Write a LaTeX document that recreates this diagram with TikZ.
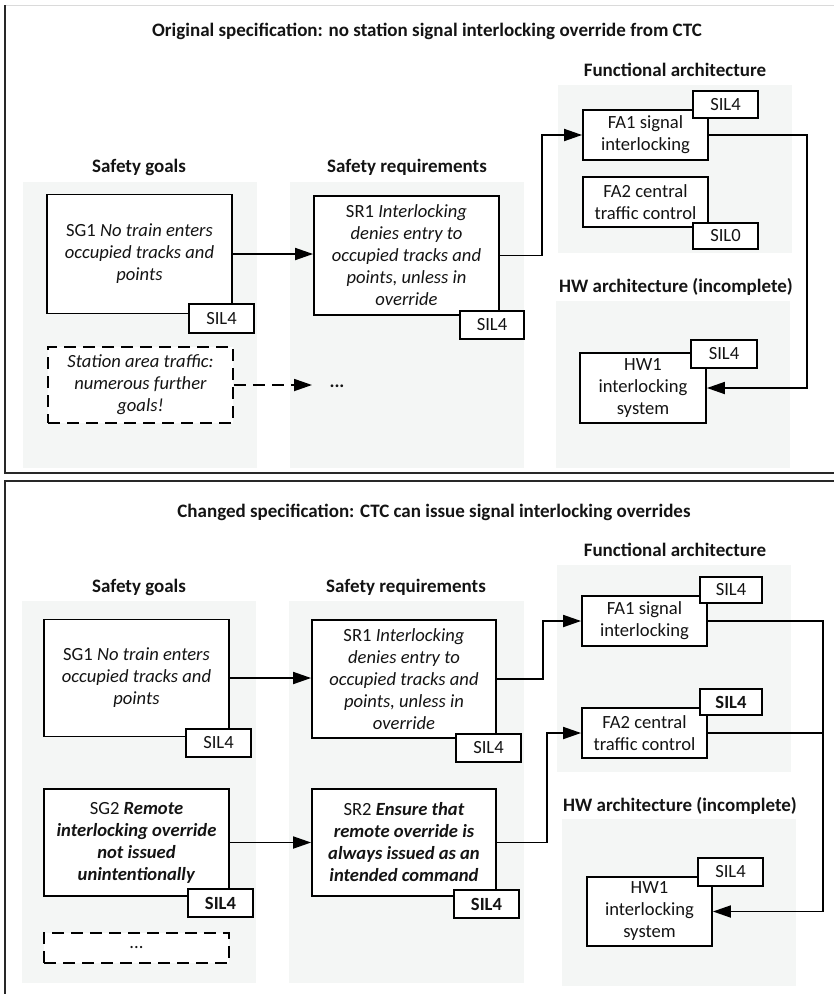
\documentclass[tikz,border=0pt]{standalone}
\usepackage{fontspec}
\setmainfont{Carlito}
\usetikzlibrary{arrows.meta}
\definecolor{panelbg}{RGB}{244,246,245}
\definecolor{topline}{RGB}{218,218,218}
\definecolor{frameline}{RGB}{40,40,40}
\begin{document}
\begin{tikzpicture}[x=1pt,y=-1pt,
  txt/.style={font=\fontsize{18.6}{22}\selectfont, align=center, text=black!92},
  head/.style={font=\fontsize{19}{22}\selectfont\bfseries, text=black!92},
  bx/.style 2 args={txt, draw, line width=1.8pt, fill=white, inner sep=1pt, minimum width=#1pt, minimum height=#2pt},
  dbx/.style 2 args={bx={#1}{#2}, dash pattern=on 12pt off 7pt},
  arr/.style={line width=1.8pt, -{Triangle[length=18pt,width=12pt]}},
  darr/.style={arr, dash pattern=on 12pt off 7pt},
  wire/.style={line width=1.8pt},
  bg/.style={fill=panelbg, draw=none},
  bfont/.style={font=\fontsize{18.6}{22}\selectfont\bfseries}
]
\useasboundingbox (0,0) rectangle (834,994);

% ---------- panel frames ----------
\draw[topline, line width=1pt] (5,5) -- (834,5);
\draw[frameline, line width=2pt] (5,5) -- (5,473) -- (834,473);
\draw[frameline, line width=2pt] (834,481) -- (5,481) -- (5,994);

% ================= TOP PANEL =================
\node[head] (t1) at (427,31) {Original specification: no station signal interlocking override from CTC};

\fill[bg] (23,182) rectangle (257,468);
\fill[bg] (290,182) rectangle (524,468);
\fill[bg] (558,85) rectangle (792,253);
\fill[bg] (556,301) rectangle (790,468);

\node[head] (hsg1) at (139,167) {Safety goals};
\node[head] (hsr1) at (407,167) {Safety requirements};
\node[head] (hfa1) at (675,70) {Functional architecture};
\node[head] (hhw1) at (676,287) {HW architecture (incomplete)};

\node[bx={185}{119}] (sg1) at (139.5,254) {SG1 \textit{No train enters}\\\textit{occupied tracks and}\\\textit{points}};
\node[bx={65}{29}] (sg1tag) at (221.5,318.5) {SIL4};

\node[dbx={185}{76}] (more1) at (140.5,385) {\textit{Station area traffic:}\\\textit{numerous further}\\\textit{goals!}};

\node[bx={185}{119}] (sr1) at (406.5,255.5) {SR1 \textit{Interlocking}\\\textit{denies entry to}\\\textit{occupied tracks and}\\\textit{points, unless in}\\\textit{override}};
\node[bx={64}{28}] (sr1tag) at (492,325) {SIL4};

\coordinate (dotsin) at (312,385);
\node[txt, bfont] (dots1) at (337,386) {...};

\node[bx={125}{50}] (fa1) at (645.5,135) {FA1 signal\\interlocking};
\node[bx={65}{27}] (fa1tag) at (725.5,104.5) {SIL4};
\node[bx={125}{50}] (fa2) at (645.5,202) {FA2 central\\traffic control};
\node[bx={65}{26}] (fa2tag) at (725.5,236) {SIL0};

\node[bx={126}{70}] (hw1) at (643,388) {HW1\\interlocking\\system};
\node[bx={66}{28}] (hw1tag) at (724,354) {SIL4};

\coordinate (j1) at (542,0);
\coordinate (bus1) at (807,0);

\draw[arr] (sg1.east) -- (sg1.east -| sr1.west);
\draw[darr] (more1.east) -- (dotsin);
\draw[arr] (sr1.east) -| (j1 |- sr1.east) |- (fa1.west);
\draw[arr] (fa1.east) -| (bus1 |- fa1.east) |- (hw1.east);

% ================= BOTTOM PANEL =================
\node[head] (t2) at (434,512) {Changed specification: CTC can issue signal interlocking overrides};

\fill[bg] (22,601) rectangle (256,983);
\fill[bg] (289,601) rectangle (524,983);
\fill[bg] (557,565) rectangle (791,772);
\fill[bg] (562,819) rectangle (796,986);

\node[head] (hsg2) at (139,587) {Safety goals};
\node[head] (hsr2) at (406,587) {Safety requirements};
\node[head] (hfa2) at (675,550) {Functional architecture};
\node[head] (hhw2) at (680,806) {HW architecture (incomplete)};

\node[bx={185}{117}] (sg1b) at (136.5,678) {SG1 \textit{No train enters}\\\textit{occupied tracks and}\\\textit{points}};
\node[bx={65}{28}] (sg1btag) at (218.5,743) {SIL4};

\node[bx={185}{107}] (sg2) at (136.5,842.5) {SG2 \textbf{\textit{Remote}}\\\textbf{\textit{interlocking override}}\\\textbf{\textit{not issued}}\\\textbf{\textit{unintentionally}}};
\node[bx={65}{28}, bfont] (sg2tag) at (220.5,903) {SIL4};

\node[dbx={185}{30}] (moreb) at (136.5,948) {...};

\node[bx={184}{118}] (sr1b) at (404,679) {SR1 \textit{Interlocking}\\\textit{denies entry to}\\\textit{occupied tracks and}\\\textit{points, unless in}\\\textit{override}};
\node[bx={65}{28}] (sr1btag) at (488.5,748) {SIL4};

\node[bx={184}{107}] (sr2) at (404,842.5) {SR2 \textbf{\textit{Ensure that}}\\\textbf{\textit{remote override is}}\\\textbf{\textit{always issued as an}}\\\textbf{\textit{intended command}}};
\node[bx={65}{28}, bfont] (sr2tag) at (486.5,904) {SIL4};

\node[bx={125}{50}] (fa1b) at (644.5,621) {FA1 signal\\interlocking};
\node[bx={62}{26}] (fa1btag) at (731,590) {SIL4};
\node[bx={125}{50}] (fa2b) at (644.5,733) {FA2 central\\traffic control};
\node[bx={62}{26}, bfont] (fa2btag) at (731,702) {SIL4};

\node[bx={125}{69}] (hw1b) at (649.5,911.5) {HW1\\interlocking\\system};
\node[bx={65}{28}] (hw1btag) at (730.5,872) {SIL4};

\coordinate (j2) at (543,0);
\coordinate (j3) at (547,0);
\coordinate (bus2) at (823,0);

\draw[arr] (sg1b.east) -- (sg1b.east -| sr1b.west);
\draw[arr] (sg2.east) -- (sg2.east -| sr2.west);
\draw[arr] (sr1b.east) -| (j2 |- sr1b.east) |- (fa1b.west);
\draw[arr] (sr2.east) -| (j3 |- sr2.east) |- (fa2b.west);
\draw[arr] (fa1b.east) -| (bus2 |- fa1b.east) |- (hw1b.east);
\draw[wire] (fa2b.east) -- (bus2 |- fa2b.east);

\end{tikzpicture}
\end{document}
